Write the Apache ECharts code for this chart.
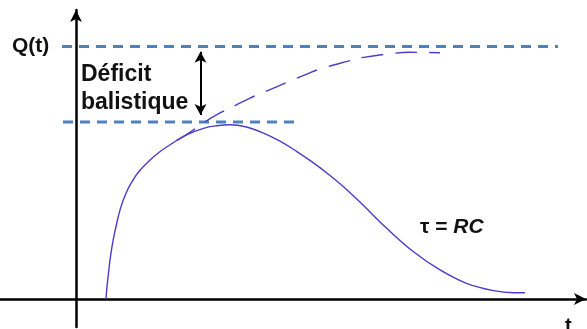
<!DOCTYPE html>
<html>
<head>
<meta charset="utf-8">
<script src="https://cdn.jsdelivr.net/npm/echarts@6/dist/echarts.min.js"></script>
<style>
html,body{margin:0;padding:0;background:#fff;}
#chart{width:587px;height:329px;}
</style>
</head>
<body>
<div id="chart"></div>
<script>
// Charge reçue Q(t): réponse réelle (amplificateur RC) et réponse idéale
const responseReelle = [
  [6.0, 0], [6.2, 4.9], [6.5, 10.2], [6.8, 15.4], [7.2, 20.7], [7.7, 26.0],
  [8.3, 31.3], [9.0, 36.6], [10.0, 41.9], [11.0, 45.8], [12.5, 50.3],
  [14.5, 54.5], [16.7, 58.2], [19.3, 61.7], [22.1, 65.0], [25.5, 67.6],
  [28.1, 68.6], [30.8, 69.0], [34.1, 68.1], [37.5, 65.7], [40.8, 62.5],
  [44.1, 58.5], [47.5, 53.9], [50.8, 48.9], [54.1, 43.4], [57.5, 37.0],
  [62.1, 28.1], [67.5, 18.7], [72.8, 11.5], [78.1, 6.2], [83.5, 3.3],
  [87.5, 2.5], [89.8, 2.5]
];
const responseIdeale = [
  [20.1, 62.7], [22.8, 66.0], [25.6, 69.9], [28.8, 73.7], [31.8, 76.6],
  [34.8, 79.6], [37.2, 81.6], [42.8, 86.3], [46.4, 89.3], [48.8, 91.1],
  [54.2, 94.1], [57.2, 95.6], [63.4, 97.3], [66.8, 97.7], [72.8, 97.5]
];
// niveaux horizontaux: Q max idéal et Q max réel
const niveauQmax = [[-2.8, 100], [96.4, 100]];
const niveauReel = [[-2.6, 70.1], [43.8, 70.1]];
// flèche du déficit balistique
const deficitFleche = [[24.9, 97.9], [24.9, 72.9]];

const chart = echarts.init(document.getElementById('chart'), null, {renderer: 'canvas'});
const purple = '#4b3cc9';
const blueDash = '#4f81bd';
const font = '"Liberation Sans", Arial, sans-serif';

chart.setOption({
  animation: false,
  backgroundColor: '#fff',
  grid: {left: 0, right: 1, top: 10, bottom: 2, containLabel: false},
  xAxis: {
    type: 'value', min: -15.2, max: 102,
    axisLine: {show: true, onZero: true, symbol: ['none', 'arrow'], symbolSize: [9, 12],
      lineStyle: {color: '#000', width: 2.5}},
    axisTick: {show: false}, axisLabel: {show: false}, splitLine: {show: false}
  },
  yAxis: {
    type: 'value', min: -11.09, max: 114.46,
    axisLine: {show: true, onZero: true, symbol: ['none', 'arrow'], symbolSize: [9, 12],
      lineStyle: {color: '#000', width: 2.5}},
    axisTick: {show: false}, axisLabel: {show: false}, splitLine: {show: false}
  },
  series: [
    {type: 'line', data: niveauQmax, showSymbol: false, silent: true,
      lineStyle: {color: blueDash, width: 3, type: [10, 7]}},
    {type: 'line', data: niveauReel, showSymbol: false, silent: true,
      lineStyle: {color: blueDash, width: 3, type: [10, 7]}},
    {type: 'line', data: responseReelle, showSymbol: false, smooth: 0.4, silent: true,
      lineStyle: {color: purple, width: 1.4}},
    {type: 'line', data: responseIdeale, showSymbol: false, smooth: 0.4, silent: true,
      lineStyle: {color: purple, width: 1.4, type: [22, 12]}},
    {type: 'line', data: [], silent: true,
      markLine: {
        silent: true, symbol: ['arrow', 'arrow'], symbolSize: [9, 11],
        label: {show: false},
        lineStyle: {color: '#000', width: 2, type: 'solid'},
        data: [[{coord: deficitFleche[0]}, {coord: deficitFleche[1]}]]
      }}
  ],
  graphic: [
    {type: 'text', x: 12, y: 46, style: {text: 'Q(t)', font: 'bold 21px ' + font, fill: '#111', textVerticalAlign: 'middle'}},
    {type: 'text', x: 81, y: 75, style: {text: 'Déficit', font: 'bold 23px ' + font, fill: '#111', textVerticalAlign: 'middle'}},
    {type: 'text', x: 81, y: 103, style: {text: 'balistique', font: 'bold 23px ' + font, fill: '#111', textVerticalAlign: 'middle'}},
    {type: 'text', x: 420, y: 227, style: {
      text: '{a|τ = }{b|RC}', textVerticalAlign: 'middle',
      rich: {
        a: {font: 'bold 21px ' + font, fill: '#111'},
        b: {font: 'italic bold 21px ' + font, fill: '#111'}
      }}},
    {type: 'text', x: 565, y: 326, style: {text: 't', font: 'bold 20px ' + font, fill: '#111', textVerticalAlign: 'middle'}}
  ]
});
</script>
</body>
</html>
